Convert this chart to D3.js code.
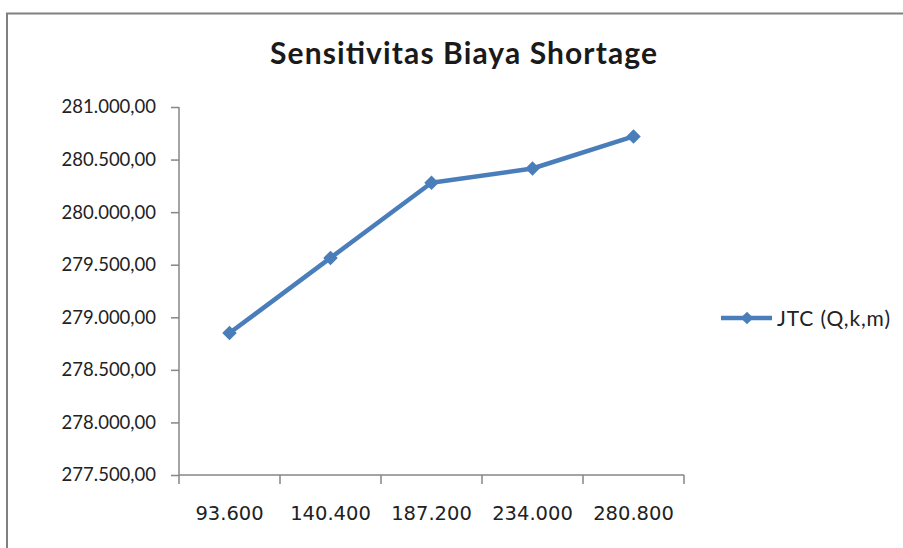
<!DOCTYPE html>
<html><head><meta charset="utf-8">
<script src="https://cdn.jsdelivr.net/npm/d3@7"></script>
<style>html,body{margin:0;padding:0;background:#fff;}svg{display:block;}</style>
</head><body>
<script>
const categories = ["93.600", "140.400", "187.200", "234.000", "280.800"];
const seriesName = "JTC (Q,k,m)";
const values = [278850, 279565, 280280, 280415, 280720];
const yTicks = [277500, 278000, 278500, 279000, 279500, 280000, 280500, 281000];
const title = "Sensitivitas Biaya Shortage";

const W = 903, H = 548;
const svg = d3.select("body").append("svg").attr("width", W).attr("height", H);
const font = "Lato, 'Open Sans', sans-serif";
const axisColor = "#868686";
const lineColor = "#4a7ebb";

// frame
svg.append("path").attr("d", `M7,${H} L7,13.5 L${W},13.5`).attr("fill", "none")
  .attr("stroke", "#808080").attr("stroke-width", 2);

svg.append("text").attr("x", 270).attr("y", 64)
  .attr("font-family", font).attr("font-weight", "bold").attr("font-size", 30)
  .attr("textLength", 387).attr("lengthAdjust", "spacing")
  .attr("fill", "#1a1a1a").text(title);

const x = d3.scaleBand().domain(categories).range([179, 684]);
const y = d3.scaleLinear().domain([277500, 281000]).range([475, 107]);

const fmt = v => d3.format(",.2f")(v).replace(/,/g, "X").replace(/\./g, ",").replace(/X/g, ".");

const yAxis = svg.append("g").attr("transform", "translate(179,0)")
  .call(d3.axisLeft(y).tickValues(yTicks).tickFormat(fmt).tickSize(8).tickPadding(15));
const xAxis = svg.append("g").attr("transform", "translate(0,475)")
  .call(d3.axisBottom(x).tickSize(0).tickPadding(31));
const bounds = categories.map(c => x(c)).concat([x.range()[1]]);
xAxis.selectAll(".bt").data(bounds).enter().append("line").attr("class", "bt")
  .attr("x1", d => d).attr("x2", d => d).attr("y1", 0).attr("y2", 9);

[yAxis, xAxis].forEach(g => {
  g.selectAll("path,line").attr("stroke", axisColor).attr("stroke-width", 1.5);
  g.selectAll("text").attr("fill", "#222");
});
yAxis.selectAll("text").attr("font-family", font).attr("font-size", 18.5);
xAxis.selectAll("text").attr("font-family", "'DejaVu Sans', sans-serif").attr("font-size", 19.5);
yAxis.select(".domain").attr("d", "M0,107V475");
xAxis.select(".domain").attr("d", "M179,0H684");

const cx = d => x(d) + x.bandwidth() / 2;
const line = d3.line().x((d, i) => cx(categories[i])).y(d => y(d));
svg.append("path").datum(values).attr("d", line).attr("fill", "none")
  .attr("stroke", lineColor).attr("stroke-width", 4.5).attr("stroke-linejoin", "round");

const diamond = d3.symbol().type(d3.symbolSquare).size(105);
svg.selectAll(".pt").data(values).enter().append("path")
  .attr("transform", (d, i) => `translate(${cx(categories[i])},${y(d)}) rotate(45)`)
  .attr("d", diamond).attr("fill", lineColor);

// legend
const lg = svg.append("g").attr("transform", "translate(721,318)");
lg.append("line").attr("x1", 0).attr("x2", 51).attr("y1", 0).attr("y2", 0)
  .attr("stroke", lineColor).attr("stroke-width", 4.5);
lg.append("path").attr("transform", "translate(26,0) rotate(45)")
  .attr("d", d3.symbol().type(d3.symbolSquare).size(80)).attr("fill", lineColor);
lg.append("text").attr("x", 56).attr("y", 7.5).attr("font-family", font).attr("font-size", 21)
  .attr("textLength", 113).attr("lengthAdjust", "spacing")
  .attr("fill", "#222").text(seriesName);
</script>
</body></html>
